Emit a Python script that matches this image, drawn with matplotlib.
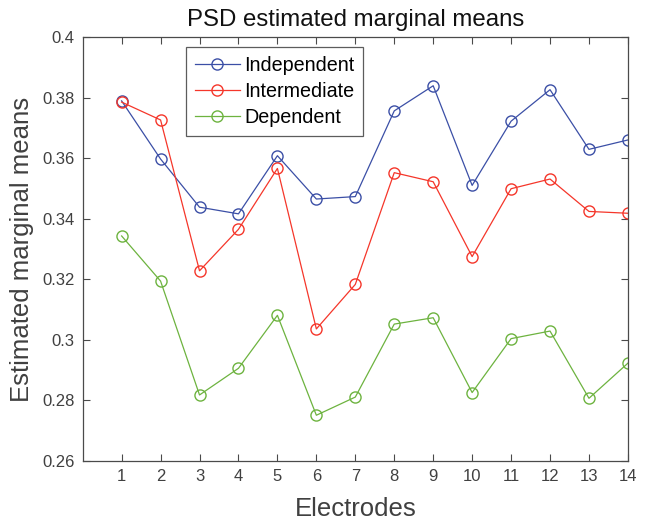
import matplotlib
matplotlib.use("Agg")
import matplotlib.pyplot as plt

plt.rcParams['font.family'] = ['Liberation Sans', 'DejaVu Sans']

electrodes = list(range(1, 15))
independent = [0.3789, 0.3597, 0.3438, 0.3416, 0.3608, 0.3465, 0.3473,
               0.3756, 0.3839, 0.3510, 0.3722, 0.3826, 0.3629, 0.3660]
intermediate = [0.3785, 0.3726, 0.3228, 0.3365, 0.3566, 0.3036, 0.3183,
                0.3552, 0.3522, 0.3275, 0.3499, 0.3531, 0.3424, 0.3418]
dependent = [0.3343, 0.3194, 0.2818, 0.2906, 0.3081, 0.2751, 0.2811,
             0.3052, 0.3073, 0.2826, 0.3004, 0.3029, 0.2807, 0.2923]
series_names = ['Independent', 'Intermediate', 'Dependent']
colors = ['#3b4fa6', '#f5362a', '#6db33f']
yticks = [0.26, 0.28, 0.3, 0.32, 0.34, 0.36, 0.38, 0.4]
ytick_labels = ['0.26', '0.28', '0.3', '0.32', '0.34', '0.36', '0.38', '0.4']

fig = plt.figure(figsize=(6.48, 5.21), dpi=100)
ax = fig.add_axes([0.1276, 0.1152, 0.8414, 0.8138])

for vals, name, c in zip([independent, intermediate, dependent], series_names, colors):
    ax.plot(electrodes, vals, color=c, lw=0.9, marker='o', markersize=8,
            markerfacecolor='none', markeredgecolor=c, markeredgewidth=1.0, label=name)

ax.set_xlim(0, 14)
ax.set_ylim(0.26, 0.4)
ax.set_xticks(electrodes)
ax.set_yticks(yticks)
ax.set_yticklabels(ytick_labels)
axcol = '#4a4a4a'
for s in ax.spines.values():
    s.set_color(axcol)
    s.set_linewidth(0.9)
ax.tick_params(direction='in', top=True, right=True, length=5, width=0.8,
               color=axcol, labelcolor='#404040', labelsize=12, pad=6)

ax.set_title('PSD estimated marginal means', fontsize=17.3, color='#111111', pad=8)
ax.set_xlabel('Electrodes', fontsize=18.5, color='#404040', labelpad=9)
ax.set_ylabel('Estimated marginal means', fontsize=18.5, color='#404040', labelpad=6)

leg = ax.legend(loc='upper left', bbox_to_anchor=(0.189, 0.976), fontsize=14.2,
                frameon=True, fancybox=False, edgecolor='#333333',
                handlelength=2.3, borderpad=0.45, labelspacing=0.36,
                handletextpad=0.2, borderaxespad=0)
leg.get_frame().set_linewidth(0.9)

fig.savefig('out.png', dpi=100)
